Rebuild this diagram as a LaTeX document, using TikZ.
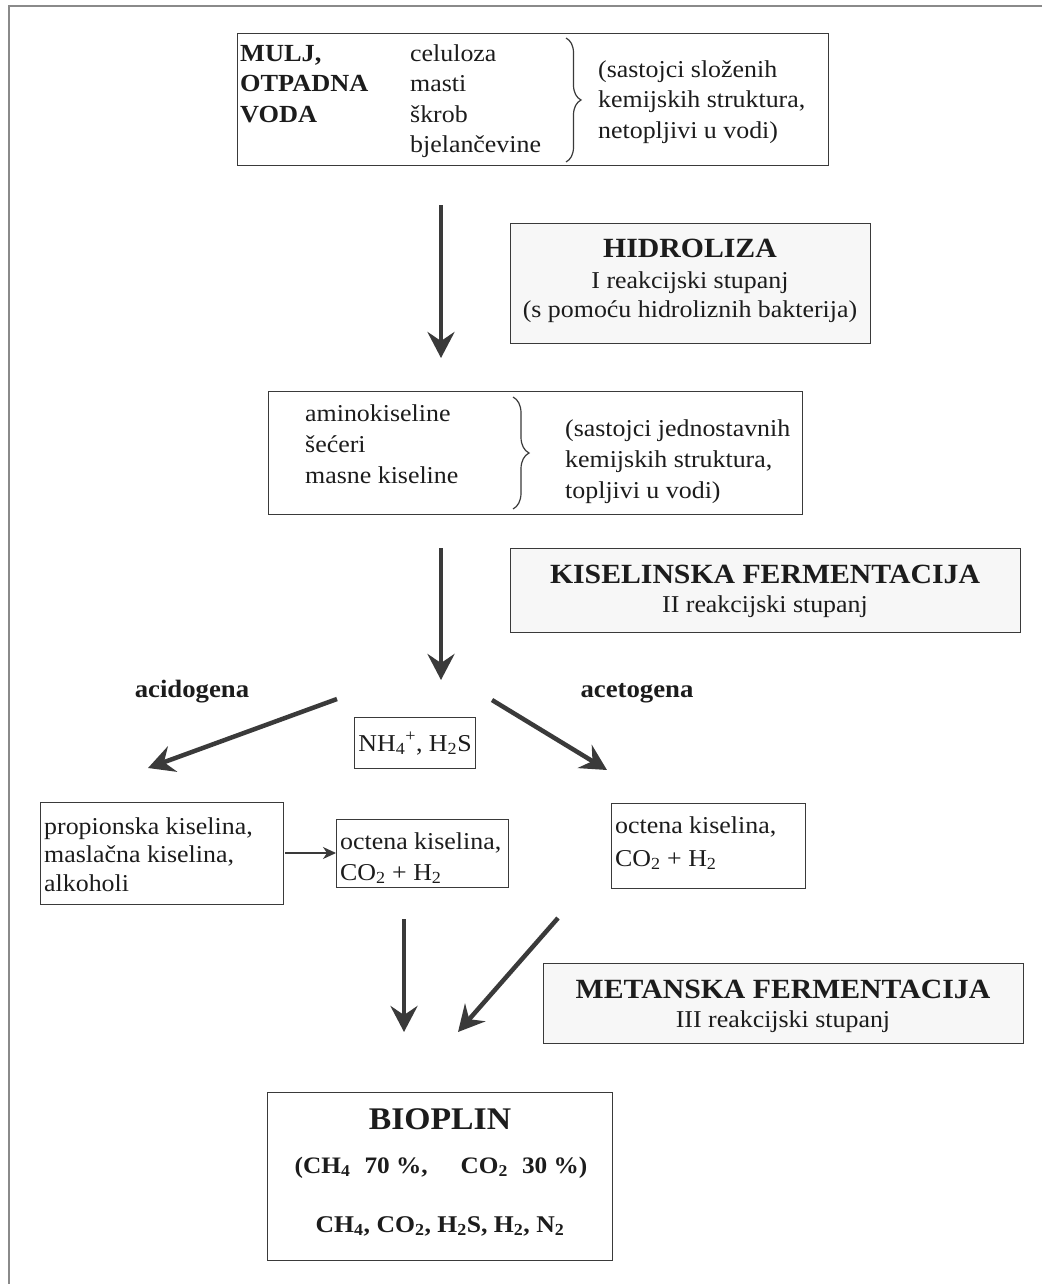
\documentclass[tikz,border=0pt]{standalone}
\usepackage{fontspec}
\setmainfont[FakeStretch=1.07]{Liberation Serif}
\usetikzlibrary{arrows.meta,decorations.pathreplacing}
\definecolor{ink}{HTML}{1C1C1C}
\definecolor{edge}{HTML}{3A3A3A}
\definecolor{frame}{HTML}{8A8A8A}
\begin{document}
\begin{tikzpicture}[x=1pt,y=-1pt,
  every node/.style={text=ink, inner sep=0pt},
  box/.style={draw=edge, line width=1.3pt, anchor=north west, inner sep=0pt},
  stagebox/.style={box, fill=gray!6},
  txt/.style={anchor=base west, font=\fontsize{24.2}{31}\selectfont},
  ctxt/.style={anchor=base, font=\fontsize{24.2}{31}\selectfont},
  btxt/.style={anchor=base west, font=\fontsize{24.6}{31}\selectfont\bfseries},
  head/.style={anchor=base, font=\fontsize{27.8}{31}\selectfont\bfseries},
  lab/.style={anchor=base, font=\fontsize{25}{31}\selectfont\bfseries},
  bigarrow/.style={draw=edge, line width=4.5pt, -{Stealth[length=26pt,width=27pt,inset=9pt]}},
  smallarrow/.style={draw=edge, line width=1.2pt, -{Stealth[length=13pt,width=12pt,inset=4pt]}},
  bracestyle/.style={draw=edge, line width=1.2pt, decorate}
]
\useasboundingbox (0,0) rectangle (1042,1284);
\fill[white] (0,0) rectangle (1042,1284);
% outer frame (partial)
\draw[frame, line width=2pt] (1042,6) -- (9,6) -- (9,1284);

% ---- box 1
\node[box, minimum width=591pt, minimum height=132pt] (b1) at (237,33) {};
\node[btxt] (m1) at (240,62) {MULJ,};
\node[btxt] (m2) at (240,92) {OTPADNA};
\node[btxt] (m3) at (240,123) {VODA};
\node[txt] (c1) at (410,62) {celuloza};
\node[txt] (c2) at (410,92) {masti};
\node[txt] (c3) at (410,123) {škrob};
\node[txt] (c4) at (410,153) {bjelančevine};
\draw[bracestyle, decoration={brace, amplitude=15pt, aspect=0.5}] (566,38) -- (566,162);
\node[txt] (r1) at (598,78) {(sastojci složenih};
\node[txt] (r2) at (598,108) {kemijskih struktura,};
\node[txt] (r3) at (598,139) {netopljivi u vodi)};

% ---- HIDROLIZA
\node[stagebox, minimum width=360pt, minimum height=120pt] (s1) at (510,223) {};
\node[head] (s1a) at (690,257) {HIDROLIZA};
\node[ctxt] (s1b) at (690,288) {I reakcijski stupanj};
\node[ctxt] (s1c) at (690,317) {(s pomoću hidroliznih bakterija)};

% ---- box 2
\node[box, minimum width=534pt, minimum height=123pt] (b2) at (268,391) {};
\node[txt] (d1) at (305,421) {aminokiseline};
\node[txt] (d2) at (305,452) {šećeri};
\node[txt] (d3) at (305,483) {masne kiseline};
\draw[bracestyle, decoration={brace, amplitude=16pt, aspect=0.5}] (513,397) -- (513,509);
\node[txt] (e1) at (565,436) {(sastojci jednostavnih};
\node[txt] (e2) at (565,467) {kemijskih struktura,};
\node[txt] (e3) at (565,498) {topljivi u vodi)};

% ---- KISELINSKA
\node[stagebox, minimum width=510pt, minimum height=84pt] (s2) at (510,548) {};
\node[head] (s2a) at (765,583) {KISELINSKA FERMENTACIJA};
\node[ctxt] (s2b) at (765,612) {II reakcijski stupanj};

% ---- labels
\node[lab] (acid) at (192,697) {acidogena};
\node[lab] (acet) at (637,697) {acetogena};

% ---- NH4 box
\node[box, minimum width=121pt, minimum height=51pt] (nh) at (354,717) {};
\node[ctxt] (nht) at (415,751) {NH\textsubscript{4}\textsuperscript{+}, H\textsubscript{2}S};

% ---- propionska box
\node[box, minimum width=243pt, minimum height=102pt] (p) at (40,802) {};
\node[txt] (p1) at (44,834) {propionska kiselina,};
\node[txt] (p2) at (44,862) {maslačna kiselina,};
\node[txt] (p3) at (44,891) {alkoholi};

% ---- octena left
\node[box, minimum width=172pt, minimum height=68pt] (o1) at (336,819) {};
\node[txt] (o1a) at (340,849) {octena kiselina,};
\node[txt] (o1b) at (340,880) {CO\textsubscript{2} + H\textsubscript{2}};

% ---- octena right
\node[box, minimum width=194pt, minimum height=85pt] (o2) at (611,803) {};
\node[txt] (o2a) at (615,833) {octena kiselina,};
\node[txt] (o2b) at (615,866) {CO\textsubscript{2} + H\textsubscript{2}};

% ---- METANSKA
\node[stagebox, minimum width=480pt, minimum height=80pt] (s3) at (543,963) {};
\node[head] (s3a) at (783,998) {METANSKA FERMENTACIJA};
\node[ctxt] (s3b) at (783,1027) {III reakcijski stupanj};

% ---- BIOPLIN
\node[box, minimum width=345pt, minimum height=168pt] (bp) at (267,1092) {};
\node[anchor=base, font=\fontsize{31.5}{34}\selectfont\bfseries] (bp1) at (440,1129) {BIOPLIN};
\node[anchor=base, font=\fontsize{23.6}{28}\selectfont\bfseries] (bp2) at (441,1173) {(CH\textsubscript{4}\hspace{0.6em}70~\%,\hspace{1.4em}CO\textsubscript{2}\hspace{0.6em}30~\%)};
\node[anchor=base, font=\fontsize{24}{28}\selectfont\bfseries] (bp3) at (440,1232) {CH\textsubscript{4}, CO\textsubscript{2}, H\textsubscript{2}S, H\textsubscript{2}, N\textsubscript{2}};

% ---- arrow end points
\coordinate (a1s) at (441,205);  \coordinate (a1e) at (441,358);
\coordinate (a2s) at (441,548);  \coordinate (a2e) at (441,680);
\coordinate (a3s) at (337,699);  \coordinate (a3e) at (148,768);
\coordinate (a4s) at (492,700);  \coordinate (a4e) at (607,770);
\coordinate (a5s) at (285,853);  \coordinate (a5e) at (336,853);
\coordinate (a6s) at (404,919);  \coordinate (a6e) at (404,1032);
\coordinate (a7s) at (558,918);  \coordinate (a7e) at (458,1032);

\draw[bigarrow] (a1s) -- (a1e);
\draw[bigarrow] (a2s) -- (a2e);
\draw[bigarrow] (a3s) -- (a3e);
\draw[bigarrow] (a4s) -- (a4e);
\draw[smallarrow] (a5s) -- (a5e);
\draw[bigarrow] (a6s) -- (a6e);
\draw[bigarrow] (a7s) -- (a7e);
\end{tikzpicture}
\end{document}
